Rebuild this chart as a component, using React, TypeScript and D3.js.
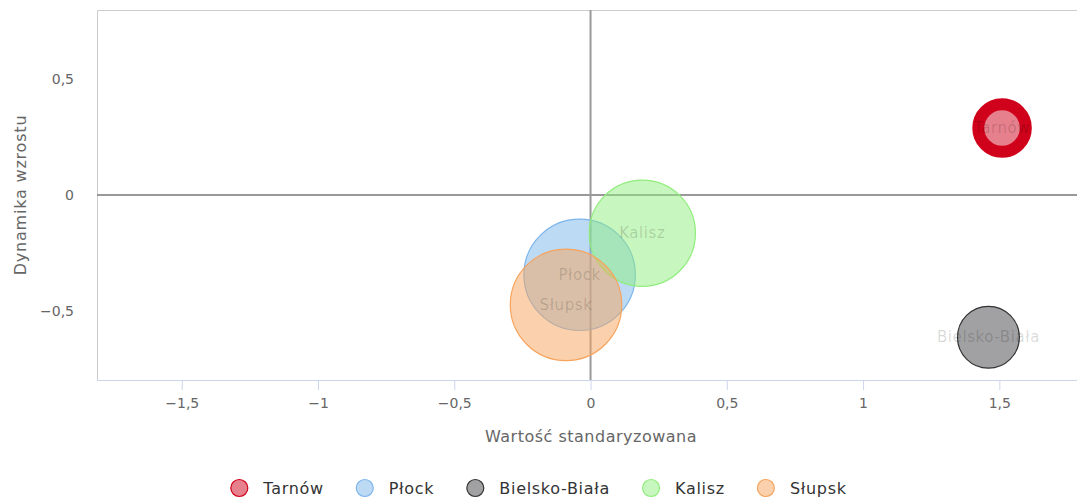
import React, { useEffect, useRef } from "react";
import * as d3 from "d3";

// Bubble data
const cities = ["Tarnów", "Płock", "Bielsko-Biała", "Kalisz", "Słupsk"];
const standardized = [1.51, -0.04, 1.46, 0.19, -0.09];
const growth = [0.29, -0.345, -0.615, -0.165, -0.475];
const sizes = [18, 99, 30.5, 90, 99];
const colors = ["#d0021b", "#7cb5ec", "#434348", "#90ed7d", "#f7a35c"];

const xTicks = [-1.5, -1, -0.5, 0, 0.5, 1, 1.5];
const yTicks = [-0.5, 0, 0.5];

const W = 1077;
const H = 500;
const FONT = "'DejaVu Sans', sans-serif";

const App: React.FC = () => {
  const svgRef = useRef<SVGSVGElement>(null);

  useEffect(() => {
    const svg = d3.select(svgRef.current);
    svg.selectAll("*").remove();

    const plot = { left: 97, right: 1077, top: 10, bottom: 380 };

    const x = d3.scaleLinear().domain([-1.811, 1.785]).range([plot.left, plot.right]);
    const y = d3.scaleLinear().domain([-0.8, 0.8]).range([plot.bottom, plot.top]);
    const r = d3.scaleSqrt().domain([0, 100]).range([0, 56]);

    const pl = d3.formatLocale({
      decimal: ",",
      thousands: " ",
      grouping: [3],
      currency: ["", " zł"],
      minus: "\u2212",
    });
    const fmt = (v: number) => pl.format("~g")(v);

    // plot border (top and left; right side runs off the page)
    svg
      .append("path")
      .attr("d", `M${plot.left + 0.5},${plot.bottom}V${plot.top + 0.5}H${plot.right + 2}`)
      .attr("fill", "none")
      .attr("stroke", "#cccccc");

    // zero lines
    svg
      .append("line")
      .attr("x1", x(0))
      .attr("x2", x(0))
      .attr("y1", plot.top)
      .attr("y2", plot.bottom)
      .attr("stroke", "#999999")
      .attr("stroke-width", 2);
    svg
      .append("line")
      .attr("x1", plot.left)
      .attr("x2", plot.right)
      .attr("y1", y(0))
      .attr("y2", y(0))
      .attr("stroke", "#999999")
      .attr("stroke-width", 2);

    // x axis
    const xAxis = svg
      .append("g")
      .attr("transform", `translate(0,${plot.bottom})`)
      .call(
        d3
          .axisBottom(x)
          .tickValues(xTicks)
          .tickSize(10)
          .tickPadding(8)
          .tickFormat((d) => fmt(d as number))
      );
    xAxis.select(".domain").attr("stroke", "#ccd6eb").attr("d", `M${plot.left},0.5H${plot.right}`);
    xAxis.selectAll(".tick line").attr("stroke", "#ccd6eb");
    xAxis
      .selectAll(".tick text")
      .attr("fill", "#666666")
      .style("font-family", FONT)
      .style("font-size", "14px");

    // y axis labels (no line)
    svg
      .append("g")
      .selectAll("text")
      .data(yTicks)
      .enter()
      .append("text")
      .attr("x", 74)
      .attr("y", (d) => y(d))
      .attr("dy", "0.35em")
      .attr("text-anchor", "end")
      .attr("fill", "#666666")
      .style("font-family", FONT)
      .style("font-size", "14px")
      .text((d) => fmt(d));

    // axis titles
    svg
      .append("text")
      .attr("x", 591)
      .attr("y", 442)
      .attr("text-anchor", "middle")
      .attr("fill", "#666666")
      .style("font-family", FONT)
      .style("font-size", "16px")
      .style("letter-spacing", "0.5px")
      .text("Wartość standaryzowana");
    svg
      .append("text")
      .attr("transform", `translate(26,${y(0)}) rotate(-90)`)
      .attr("text-anchor", "middle")
      .attr("fill", "#666666")
      .style("font-family", FONT)
      .style("font-size", "16px")
      .style("letter-spacing", "0.8px")
      .text("Dynamika wzrostu");

    // bubbles
    const idx = d3.range(cities.length);
    svg
      .append("g")
      .selectAll("circle")
      .data(idx)
      .enter()
      .append("circle")
      .attr("cx", (i) => x(standardized[i]))
      .attr("cy", (i) => y(growth[i]))
      .attr("r", (i) => r(sizes[i]))
      .attr("fill", (i) => colors[i])
      .attr("fill-opacity", 0.5)
      .attr("stroke", (i) => (i === 2 ? "#333333" : colors[i]))
      .attr("stroke-width", (i) => (i === 0 ? 12 : 1.2));

    // data labels
    svg
      .append("g")
      .selectAll("text")
      .data(idx)
      .enter()
      .append("text")
      .attr("x", (i) => x(standardized[i]))
      .attr("y", (i) => y(growth[i]))
      .attr("dy", "0.35em")
      .attr("text-anchor", "middle")
      .attr("fill", "#000000")
      .attr("fill-opacity", 0.16)
      .style("font-family", FONT)
      .style("font-size", "15px")
      .style("letter-spacing", "0.6px")
      .text((i) => cities[i]);

    // legend
    const legend = svg.append("g");
    const items = legend
      .selectAll("g")
      .data(idx)
      .enter()
      .append("g");
    items
      .append("circle")
      .attr("r", 8.5)
      .attr("fill", (i) => colors[i])
      .attr("fill-opacity", 0.5)
      .attr("stroke", (i) => (i === 2 ? "#333333" : colors[i]))
      .attr("stroke-width", 1.2);
    items
      .append("text")
      .attr("x", 24)
      .attr("dy", "0.35em")
      .attr("fill", "#333333")
      .style("font-family", FONT)
      .style("font-size", "16px")
      .style("letter-spacing", "0.7px")
      .text((i) => cities[i]);

    let offset = 0;
    items.each(function () {
      const g = d3.select(this);
      g.attr("transform", `translate(${offset},488)`);
      const tw = (g.select("text").node() as SVGTextElement).getComputedTextLength();
      offset += 24 + tw + 41;
    });
    const total = offset - 41 + 9;
    legend.attr("transform", `translate(${W / 2 - total / 2 + 9},0)`);
  }, []);

  return (
    <svg
      ref={svgRef}
      width={W}
      height={H}
      style={{ position: "absolute", left: 0, top: 0, background: "#ffffff" }}
    ></svg>
  );
};

export default App;
